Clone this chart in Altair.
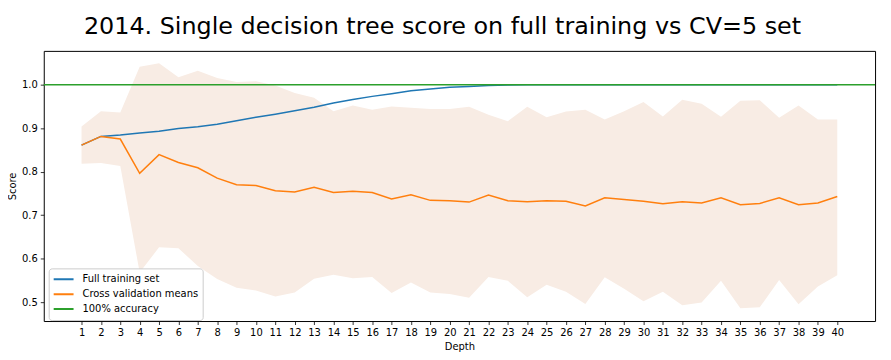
import altair as alt
import pandas as pd

depths = list(range(1, 41))

train_scores = [0.861, 0.881, 0.884, 0.889, 0.893, 0.899, 0.903, 0.909, 0.917, 0.925,
                0.932, 0.940, 0.948, 0.958, 0.966, 0.973, 0.979, 0.986, 0.990, 0.994,
                0.996, 0.998, 0.999, 0.9995, 0.9996, 0.9997, 0.9997, 0.9997, 0.9997, 0.9997,
                0.9997, 0.9997, 0.9997, 0.9997, 0.9997, 0.9997, 0.9997, 0.9997, 0.9997, 0.9997]

cv_means = [0.861, 0.881, 0.875, 0.796, 0.839, 0.821, 0.809, 0.785, 0.770, 0.768,
            0.756, 0.753, 0.764, 0.752, 0.755, 0.752, 0.737, 0.747, 0.734, 0.733,
            0.730, 0.746, 0.733, 0.731, 0.733, 0.732, 0.721, 0.740, 0.736, 0.732,
            0.726, 0.731, 0.728, 0.740, 0.724, 0.727, 0.740, 0.724, 0.728, 0.743]

cv_upper = [0.904, 0.939, 0.936, 1.041, 1.049, 1.017, 1.032, 1.015, 1.006, 1.008,
            0.998, 0.981, 0.970, 0.939, 0.952, 0.942, 0.950, 0.947, 0.944, 0.944,
            0.949, 0.931, 0.916, 0.949, 0.925, 0.938, 0.942, 0.920, 0.939, 0.960,
            0.927, 0.965, 0.956, 0.926, 0.963, 0.964, 0.924, 0.952, 0.920, 0.920]

cv_lower = [0.818, 0.820, 0.813, 0.568, 0.626, 0.624, 0.583, 0.553, 0.533, 0.527,
            0.513, 0.522, 0.554, 0.563, 0.555, 0.558, 0.521, 0.545, 0.522, 0.519,
            0.510, 0.558, 0.549, 0.511, 0.540, 0.524, 0.496, 0.557, 0.531, 0.502,
            0.524, 0.493, 0.499, 0.549, 0.486, 0.488, 0.551, 0.495, 0.536, 0.562]

series_names = ["Full training set", "Cross validation means", "100% accuracy"]
series_colors = ["#1f77b4", "#ff7f0e", "#2ca02c"]
accuracy_level = [1.0]

band_df = pd.DataFrame({"depth": depths, "lower": cv_lower, "upper": cv_upper})
line_df = pd.concat([
    pd.DataFrame({"depth": depths, "score": train_scores, "series": series_names[0]}),
    pd.DataFrame({"depth": depths, "score": cv_means, "series": series_names[1]}),
])
rule_df = pd.DataFrame({"score": accuracy_level, "series": [series_names[2]]})

FONT = "DejaVu Sans"

x_enc = alt.X("depth:Q", title="Depth",
              scale=alt.Scale(domain=[-0.95, 41.95], nice=False, zero=False),
              axis=alt.Axis(values=depths, format="d", labelFlush=False))
y_scale = alt.Scale(domain=[0.4566, 1.0776], nice=False, zero=False)
y_axis = alt.Axis(values=[0.5, 0.6, 0.7, 0.8, 0.9, 1.0], format=".1f")

color_enc = alt.Color("series:N",
                      scale=alt.Scale(domain=series_names, range=series_colors),
                      sort=series_names,
                      legend=alt.Legend(title=None, orient="none", legendX=5, legendY=219,
                                        symbolType="stroke", symbolSize=400,
                                        symbolStrokeWidth=2, labelFontSize=10,
                                        labelFont=FONT, labelColor="#000000",
                                        fillColor="#ffffff", strokeColor="#cccccc",
                                        cornerRadius=3, padding=4, rowPadding=1,
                                        clipHeight=14, labelOffset=8,
                                        labelLimit=300))

band = alt.Chart(band_df).mark_area(color="#f8ece4", opacity=1).encode(
    x=x_enc,
    y=alt.Y("lower:Q", scale=y_scale, axis=y_axis, title="Score"),
    y2="upper:Q",
)

lines = alt.Chart(line_df).mark_line(strokeWidth=1.5).encode(
    x=x_enc,
    y=alt.Y("score:Q", scale=y_scale, axis=y_axis, title="Score"),
    color=color_enc,
)

rule = alt.Chart(rule_df).mark_rule(strokeWidth=1.5).encode(
    y=alt.Y("score:Q", scale=y_scale, axis=y_axis, title="Score"),
    color=color_enc,
)

chart = alt.layer(band, lines, rule).properties(
    width=837, height=272,
    title=alt.TitleParams("2014. Single decision tree score on full training vs CV=5 set",
                          fontSize=24, font=FONT, fontWeight="normal", color="#000000",
                          anchor="middle", dx=-17, offset=12),
    padding={"left": 36, "top": 42, "right": 8, "bottom": 30},
    autosize=alt.AutoSizeParams(type="none"),
).configure_view(
    stroke="#000000", strokeWidth=1
).configure_axis(
    grid=False, domain=False, tickColor="#000000", tickSize=3.5, tickWidth=0.8,
    labelFont=FONT, labelFontSize=10, labelColor="#000000", labelPadding=3,
    titleFont=FONT, titleFontSize=10, titleFontWeight="normal", titleColor="#000000",
)

chart.save("out.html", embed_options={"renderer": "svg", "actions": False})
